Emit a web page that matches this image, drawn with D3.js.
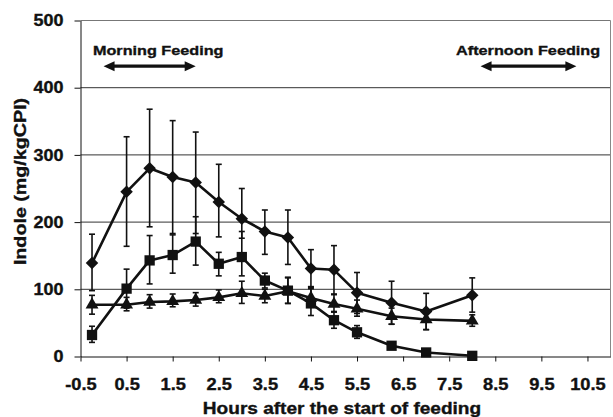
<!DOCTYPE html>
<html>
<head>
<meta charset="utf-8">
<script src="https://cdn.jsdelivr.net/npm/d3@7"></script>
<style>
  html, body { margin: 0; padding: 0; background: #fff; }
  svg { display: block; }
  text { font-family: "Liberation Sans", Arial, sans-serif; font-weight: bold; fill: #111; stroke: #111; stroke-width: 0.35px; }
</style>
</head>
<body>
<svg id="chart" width="613" height="417"></svg>
<script>
// ---- data ----
const hours = [-0.25, 0.5, 1, 1.5, 2, 2.5, 3, 3.5, 4, 4.5, 5, 5.5, 6.25, 7, 8];

const diamondMean  = [139, 245, 280, 267, 259, 230, 205, 186, 177, 131, 129, 95, 80, 67, 91];
const diamondUpper = [182, 327, 368, 351, 334, 286, 250, 218, 218, 159, 165, 125, 112, 94, 117];
const diamondLower = [98, 164, 193, 183, 183, 178, 176, 152, 137, 104, 93, 64, 48, 40, 66];

const squareMean  = [32, 101, 143, 151, 171, 138, 148, 113, 98, 79, 54, 36, 16, 6, 1];
const squareUpper = [45, 130, 180, 181, 208, 155, 186, 124, 118, 103, 67, 46, 20, 8, 2];
const squareLower = [21, 72, 108, 124, 136, 120, 120, 102, 79, 61, 42, 27, 12, 4, 0];

const triangleMean  = [77, 77, 81, 82, 84, 88, 94, 90, 97, 87, 78, 71, 60, 55, 53];
const triangleUpper = [91, 88, 92, 93, 95, 99, 112, 100, 117, 101, 92, 84, 72, 68, 62];
const triangleLower = [63, 68, 72, 74, 75, 80, 79, 80, 79, 75, 66, 60, 48, 40, 45];

const xTicks = [-0.5, 0.5, 1.5, 2.5, 3.5, 4.5, 5.5, 6.5, 7.5, 8.5, 9.5, 10.5];
const yTicks = [0, 100, 200, 300, 400, 500];

const feedingLabels = ["Morning Feeding", "Afternoon Feeding"];
const feedingStart  = [0, 8.18];
const feedingEnd    = [2, 10.26];
const feedingTextX  = [-0.23, 7.65];

const xTitle = "Hours after the start of feeding";
const yTitle = "Indole (mg/kgCPI)";

// ---- layout ----
const svg = d3.select("#chart");
const x = d3.scaleLinear().domain([-0.5, 11]).range([80.5, 610.5]);
const y = d3.scaleLinear().domain([0, 500]).range([356.5, 20.5]);
const ink = "#111";

function stretch(sel, k) {
  sel.each(function () {
    const w = this.getComputedTextLength();
    d3.select(this).attr("textLength", w * k).attr("lengthAdjust", "spacingAndGlyphs");
  });
}

// grid lines
svg.append("g").selectAll("line").data(yTicks.filter(d => d > 0)).join("line")
  .attr("x1", x.range()[0]).attr("x2", x.range()[1])
  .attr("y1", d => y(d)).attr("y2", d => y(d))
  .attr("stroke", d => d === 500 ? "#777" : "#333").attr("stroke-width", 1);
// right border
svg.append("line")
  .attr("x1", x.range()[1]).attr("x2", x.range()[1])
  .attr("y1", y(500)).attr("y2", y(0))
  .attr("stroke", "#888").attr("stroke-width", 1);

// axes
const yAxis = svg.append("g").attr("transform", `translate(${x.range()[0]},0)`)
  .call(d3.axisLeft(y).tickValues(yTicks).tickSize(6).tickSizeOuter(0).tickPadding(11).tickFormat(d3.format("d")));
const xAxis = svg.append("g").attr("transform", `translate(0,${y(0)})`)
  .call(d3.axisBottom(x).tickValues(xTicks).tickSize(5).tickSizeOuter(0).tickPadding(17).tickFormat(d => d.toFixed(1)));
[yAxis, xAxis].forEach(a => {
  a.selectAll("path, line").attr("stroke", ink).attr("stroke-width", 1);
  a.selectAll("text").attr("font-size", 16).attr("font-family", null).attr("fill", ink);
});
stretch(yAxis.selectAll("text"), 1.12);
stretch(xAxis.selectAll("text"), 1.14);

// axis titles
svg.append("text").attr("x", 342).attr("y", 413.5).attr("text-anchor", "middle")
  .attr("font-size", 16).text(xTitle).call(stretch, 1.19);
svg.append("text").attr("transform", "translate(26,181.5) rotate(-90)").attr("text-anchor", "middle")
  .attr("font-size", 16).text(yTitle).call(stretch, 1.23);

// series
const series = [
  { mean: diamondMean, upper: diamondUpper, lower: diamondLower, marker: "diamond" },
  { mean: squareMean, upper: squareUpper, lower: squareLower, marker: "square" },
  { mean: triangleMean, upper: triangleUpper, lower: triangleLower, marker: "triangle" }
];

const errG = svg.append("g").attr("stroke", ink).attr("stroke-width", 1.6);
series.forEach(s => {
  hours.forEach((h, i) => {
    const cx = x(h);
    errG.append("line").attr("x1", cx).attr("x2", cx).attr("y1", y(s.upper[i])).attr("y2", y(s.lower[i]));
    [s.upper[i], s.lower[i]].forEach(v => {
      errG.append("line").attr("x1", cx - 3).attr("x2", cx + 3).attr("y1", y(v)).attr("y2", y(v));
    });
  });
});

const line = d3.line().x(d => x(d[0])).y(d => y(d[1]));
series.forEach(s => {
  svg.append("path").datum(hours.map((h, i) => [h, s.mean[i]]))
    .attr("d", line).attr("fill", "none").attr("stroke", ink).attr("stroke-width", 2.6)
    .attr("stroke-linejoin", "round");
});

const symbols = {
  diamond: { path: d3.symbol().type(d3.symbolSquare).size(78)(), rot: 45 },
  square: { path: d3.symbol().type(d3.symbolSquare).size(106)(), rot: 0 },
  triangle: { path: d3.symbol().type(d3.symbolTriangle).size(72)(), rot: 0 }
};
series.forEach(s => {
  const sym = symbols[s.marker];
  svg.append("g").selectAll("path").data(hours.map((h, i) => [h, s.mean[i]])).join("path")
    .attr("d", sym.path).attr("fill", ink)
    .attr("transform", d => `translate(${x(d[0])},${y(d[1])}) rotate(${sym.rot})`);
});

// feeding annotations
const arrowY = y(432), textY = y(448);
feedingLabels.forEach((lab, i) => {
  svg.append("text").attr("x", x(feedingTextX[i])).attr("y", textY)
    .attr("font-size", 13.5).text(lab).call(stretch, 1.2);
  const x1 = x(feedingStart[i]), x2 = x(feedingEnd[i]), hl = 11, hw = 5;
  svg.append("line").attr("x1", x1 + hl - 1).attr("x2", x2 - hl + 1).attr("y1", arrowY).attr("y2", arrowY)
    .attr("stroke", ink).attr("stroke-width", 3.2);
  svg.append("path").attr("fill", ink)
    .attr("d", `M${x1},${arrowY} L${x1 + hl},${arrowY - hw} L${x1 + hl},${arrowY + hw} Z`);
  svg.append("path").attr("fill", ink)
    .attr("d", `M${x2},${arrowY} L${x2 - hl},${arrowY - hw} L${x2 - hl},${arrowY + hw} Z`);
});
</script>
</body>
</html>
